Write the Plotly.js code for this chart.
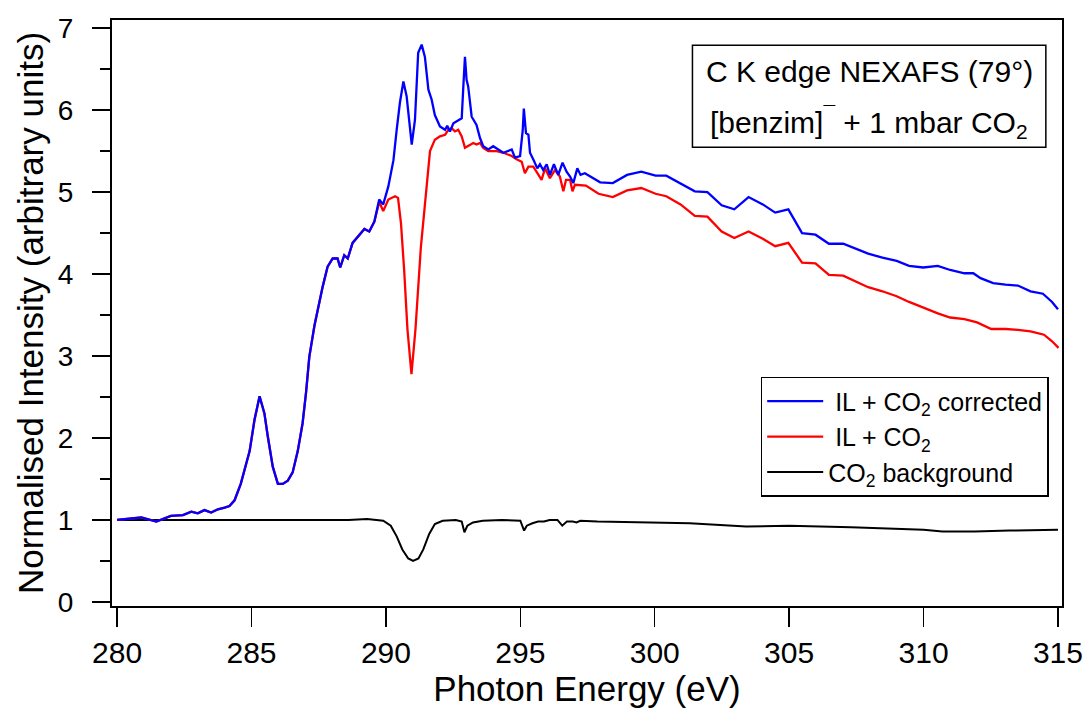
<!DOCTYPE html>
<html>
<head>
<meta charset="utf-8">
<script src="https://cdn.plot.ly/plotly-3.0.1.min.js"></script>
<style>html,body{margin:0;padding:0;background:#fff;}#chart{width:1087px;height:713px;}</style>
</head>
<body>
<div id="chart"></div>
<script>
// Photon energy (eV) / normalised intensity pairs
const correctedData = [
  [280,1.0],[280.9,1.03],[281.46,0.98],[282.0,1.05],[282.45,1.06],[282.76,1.10],[283.0,1.08],[283.25,1.12],[283.5,1.09],[283.75,1.13],
  [284.0,1.15],[284.18,1.17],[284.37,1.24],[284.6,1.44],[284.93,1.84],[285.11,2.22],[285.3,2.51],[285.48,2.30],[285.6,2.03],[285.79,1.65],
  [285.98,1.44],[286.16,1.44],[286.35,1.48],[286.53,1.58],[286.72,1.84],[286.9,2.18],[287.03,2.56],[287.15,2.99],[287.34,3.37],[287.52,3.66],
  [287.65,3.85],[287.83,4.09],[288.02,4.19],[288.2,4.19],[288.3,4.08],[288.45,4.23],[288.58,4.19],[288.76,4.38],[288.95,4.45],[289.2,4.55],
  [289.38,4.52],[289.57,4.64],[289.75,4.91],[289.9,4.85],[290.09,5.07],[290.28,5.39],[290.4,5.76],[290.52,6.09],[290.65,6.35],[290.77,6.17],
  [290.96,5.58],[291.08,5.88],[291.2,6.70],[291.33,6.80],[291.45,6.65],[291.58,6.25],[291.7,6.13],[291.82,5.94],[292.01,5.80],[292.2,5.76],
  [292.28,5.81],[292.38,5.74],[292.51,5.84],[292.69,5.88],[292.82,5.90],[292.88,6.29],[292.94,6.65],[293.0,6.37],[293.06,6.29],[293.19,5.92],
  [293.37,5.82],[293.5,5.66],[293.62,5.56],[293.81,5.52],[293.99,5.56],[294.18,5.52],[294.37,5.48],[294.68,5.52],[294.8,5.42],[294.99,5.44],
  [295.09,5.76],[295.13,6.02],[295.21,5.72],[295.3,5.70],[295.36,5.48],[295.51,5.38],[295.63,5.29],[295.73,5.34],[295.85,5.27],[295.98,5.34],
  [296.1,5.21],[296.25,5.34],[296.41,5.21],[296.57,5.36],[296.72,5.25],[296.85,5.19],[296.97,5.11],[297.12,5.29],[297.24,5.21],[297.4,5.23],
  [297.59,5.19],[297.97,5.12],[298.44,5.11],[298.97,5.21],[299.5,5.25],[300.03,5.20],[300.43,5.20],[300.96,5.11],[301.49,5.01],[301.96,5.00],
  [302.49,4.84],[302.96,4.79],[303.49,4.94],[304.02,4.85],[304.48,4.75],[304.97,4.79],[305.48,4.50],[305.98,4.48],[306.48,4.37],[307.01,4.37],
  [307.47,4.31],[307.94,4.25],[308.47,4.20],[309.0,4.16],[309.46,4.10],[309.99,4.08],[310.53,4.10],[310.99,4.05],[311.52,4.01],[311.85,4.01],
  [312.12,3.95],[312.59,3.89],[313.05,3.87],[313.51,3.86],[313.98,3.79],[314.44,3.76],[314.78,3.66],[315.0,3.57]
];
const rawData = [
  [280,1.0],[280.9,1.03],[281.46,0.98],[282.0,1.05],[282.45,1.06],[282.76,1.10],[283.0,1.08],[283.25,1.12],[283.5,1.09],[283.75,1.13],
  [284.0,1.15],[284.18,1.17],[284.37,1.24],[284.6,1.44],[284.93,1.84],[285.11,2.22],[285.3,2.51],[285.48,2.30],[285.6,2.03],[285.79,1.65],
  [285.98,1.44],[286.16,1.44],[286.35,1.48],[286.53,1.58],[286.72,1.84],[286.9,2.18],[287.03,2.56],[287.15,2.99],[287.34,3.37],[287.52,3.66],
  [287.65,3.85],[287.83,4.09],[288.02,4.19],[288.2,4.19],[288.3,4.08],[288.45,4.23],[288.58,4.19],[288.76,4.38],[288.95,4.45],[289.2,4.55],
  [289.38,4.52],[289.57,4.64],[289.75,4.88],[289.9,4.77],[290.09,4.91],[290.34,4.95],[290.45,4.93],[290.56,4.62],[290.68,4.04],[290.8,3.33],
  [290.95,2.78],[291.1,3.33],[291.3,4.33],[291.48,5.00],[291.64,5.50],[291.82,5.64],[292.01,5.68],[292.2,5.70],[292.32,5.76],[292.44,5.78],
  [292.57,5.74],[292.69,5.76],[292.82,5.68],[292.94,5.54],[293.13,5.58],[293.25,5.60],[293.37,5.58],[293.5,5.60],[293.62,5.54],[293.81,5.50],
  [294.12,5.50],[294.37,5.48],[294.68,5.44],[294.86,5.40],[295.05,5.37],[295.17,5.23],[295.3,5.31],[295.48,5.31],[295.6,5.25],[295.79,5.15],
  [295.92,5.29],[296.1,5.17],[296.29,5.27],[296.47,5.19],[296.6,5.01],[296.7,5.15],[296.85,5.15],[296.94,5.01],[297.03,5.09],[297.44,5.08],
  [297.91,4.98],[298.44,4.94],[298.97,5.02],[299.5,5.05],[300.03,4.98],[300.43,4.95],[300.96,4.85],[301.49,4.71],[301.96,4.70],[302.49,4.52],
  [302.96,4.44],[303.49,4.52],[304.02,4.43],[304.48,4.34],[304.97,4.38],[305.48,4.14],[305.98,4.13],[306.48,3.99],[307.01,3.98],[307.47,3.91],
  [307.94,3.84],[308.47,3.79],[309.0,3.73],[309.46,3.66],[309.99,3.59],[310.53,3.52],[310.99,3.47],[311.52,3.45],[311.99,3.41],[312.52,3.33],
  [313.05,3.33],[313.51,3.32],[313.98,3.30],[314.48,3.26],[314.78,3.18],[315.02,3.10]
];
const backgroundData = [
  [280,1.0],[288.6,1.0],[289.3,1.01],[289.9,0.99],[290.18,0.93],[290.4,0.80],[290.61,0.64],[290.83,0.53],[291.01,0.50],[291.21,0.53],
  [291.39,0.64],[291.61,0.83],[291.82,0.95],[292.11,0.99],[292.6,1.0],[292.82,0.98],[292.92,0.85],[293.03,0.93],[293.24,0.97],[293.6,0.99],
  [294.31,1.0],[295.0,0.99],[295.14,0.87],[295.24,0.93],[295.45,0.96],[295.66,0.98],[295.88,0.98],[296.09,1.0],[296.38,1.0],[296.56,0.93],
  [296.73,0.98],[296.95,0.98],[297.09,0.97],[297.23,0.99],[297.87,0.98],[299.3,0.97],[301.3,0.96],[303.4,0.92],[305.0,0.93],[307.3,0.91],
  [308.75,0.89],[310.0,0.88],[310.7,0.86],[311.9,0.86],[313.2,0.87],[315.0,0.88]
];
const seriesNames = [" IL + CO<sub>2</sub> corrected", " IL + CO<sub>2</sub>", "CO<sub>2</sub> background"];
const xTickVals = [280, 285, 290, 295, 300, 305, 310, 315];
const yTickVals = [0, 1, 2, 3, 4, 5, 6, 7];
const boxLines = ["C K edge NEXAFS (79°)", "[benzim]<sup>¯</sup> + 1 mbar CO<sub>2</sub>"];
const xTitle = "Photon Energy (eV)";
const yTitle = "Normalised Intensity (arbitrary units)";

const FONT = "Arial, 'Liberation Sans', sans-serif";
const col = (d, i) => d.map(p => p[i]);

const traces = [
  {x: col(backgroundData,0), y: col(backgroundData,1), name: seriesNames[2], type: 'scatter', mode: 'lines',
   line: {color: '#000000', width: 2}, legendrank: 3},
  {x: col(rawData,0), y: col(rawData,1), name: seriesNames[1], type: 'scatter', mode: 'lines',
   line: {color: '#ff0000', width: 2.3}, legendrank: 2},
  {x: col(correctedData,0), y: col(correctedData,1), name: seriesNames[0], type: 'scatter', mode: 'lines',
   line: {color: '#0000ff', width: 2.3}, legendrank: 1}
];

const layout = {
  width: 1087, height: 713,
  margin: {l: 112, r: 25, t: 20, b: 107},
  paper_bgcolor: '#ffffff', plot_bgcolor: '#ffffff',
  font: {family: FONT, color: '#000000', size: 24},
  showlegend: true,
  legend: {x: 0.986, xanchor: 'right', y: 0.391, yanchor: 'top',
           bordercolor: '#000000', borderwidth: 1.5, bgcolor: '#ffffff',
           font: {family: FONT, size: 25, color: '#000000'}, itemwidth: 56, tracegroupgap: 0},
  xaxis: {range: [279.81, 315.15], tickvals: xTickVals, ticktext: xTickVals.map(String),
          ticks: 'outside', ticklen: 19, tickwidth: 1.5, tickcolor: '#000',
          showline: true, linecolor: '#000', linewidth: 2, mirror: true, showgrid: false, zeroline: false,
          tickfont: {family: FONT, size: 30},
          title: {text: xTitle, font: {family: FONT, size: 35}, standoff: 4}},
  yaxis: {range: [-0.05, 7.1], tickvals: yTickVals, ticktext: yTickVals.map(String),
          ticks: 'outside', ticklen: 18, tickwidth: 1.5, tickcolor: '#000',
          minor: {dtick: 0.5, ticks: 'outside', ticklen: 10, tickwidth: 1.5, tickcolor: '#000', showgrid: false},
          showline: true, linecolor: '#000', linewidth: 2, mirror: true, showgrid: false, zeroline: false,
          tickfont: {family: FONT, size: 28}, ticklabelstandoff: 13,
          title: {text: yTitle, font: {family: FONT, size: 35}, standoff: 4}},
  shapes: [{type: 'rect', xref: 'paper', yref: 'paper', x0: 0.611, x1: 0.983, y0: 0.783, y1: 0.957,
            line: {color: '#000', width: 1.5}, fillcolor: 'rgba(0,0,0,0)'}],
  annotations: [
    {xref: 'paper', yref: 'paper', x: 0.797, y: 0.912, text: boxLines[0], showarrow: false,
     xanchor: 'center', yanchor: 'middle', font: {family: FONT, size: 30}},
    {xref: 'paper', yref: 'paper', x: 0.797, y: 0.826, text: boxLines[1], showarrow: false,
     xanchor: 'center', yanchor: 'middle', font: {family: FONT, size: 30}}
  ]
};

Plotly.newPlot('chart', traces, layout, {displayModeBar: false, staticPlot: true});
</script>
</body>
</html>
